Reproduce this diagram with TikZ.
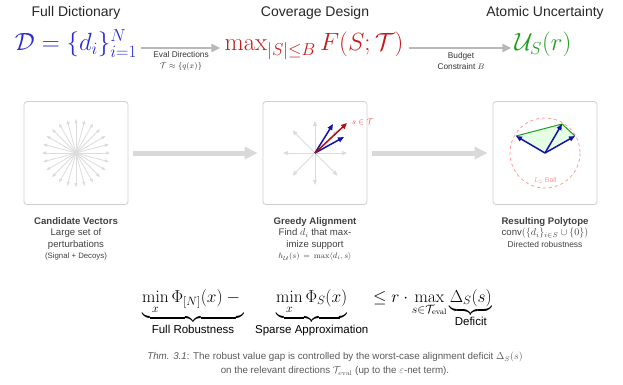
\documentclass[tikz,border=0pt]{standalone}
\usepackage{amsmath,amssymb}
\usepackage[no-math]{fontspec}
\setmainfont{Liberation Sans}
\usetikzlibrary{arrows.meta,calc}
\definecolor{dblue}{HTML}{2A2AD0}
\definecolor{dred}{HTML}{C01E1E}
\definecolor{dgreen}{HTML}{1E9E1E}
\definecolor{vblue}{HTML}{1212A8}
\definecolor{vred}{HTML}{B01010}
\definecolor{pink}{HTML}{FF9A9A}
\definecolor{boxline}{HTML}{CFCFCF}
\definecolor{starg}{HTML}{DCDCDC}
\definecolor{bigarr}{HTML}{D9D9D9}
\definecolor{toparr}{HTML}{B8B8B8}
\begin{document}
\begin{tikzpicture}[x=1pt,y=-1pt,
  title/.style={font=\fontsize{14}{16}\selectfont, text=black!85, inner sep=0pt},
  bigmath/.style={font=\fontsize{25.5}{30}\selectfont, inner sep=0pt, anchor=mid},
  arrlab/.style={font=\fontsize{8.3}{10.5}\selectfont, text=black!80, align=center, inner sep=0pt},
  toparrow/.style={draw=toparr, line width=2.5pt, -{Triangle[length=9pt,width=8pt]}},
  bigarrow/.style={draw=bigarr, line width=5pt, -{Triangle[length=13pt,width=12pt]}},
  panel/.style={draw=boxline, fill=white, rounded corners=3pt, line width=0.8pt, minimum width=104pt, minimum height=103pt, inner sep=0pt},
  desc/.style={font=\fontsize{9.6}{11.5}\selectfont, text=black!75, align=center, inner sep=0pt, anchor=north},
  starvec/.style={draw=starg, line width=0.8pt, -{Triangle[length=4pt,width=3pt]}},
  greyvec/.style={draw=starg, line width=0.9pt, -{Triangle[length=5pt,width=4pt]}},
  bluevec/.style={draw=vblue, line width=1.5pt, -{Triangle[length=6pt,width=5pt]}},
  redvec/.style={draw=vred, line width=1.5pt, -{Triangle[length=6pt,width=5pt]}},
]
\useasboundingbox (0,0) rectangle (623,384);

% titles
\node[title] (t1) at (76,13) {Full Dictionary};
\node[title] (t2) at (315,13) {Coverage Design};
\node[title] (t3) at (545,13) {Atomic Uncertainty};

% formulas
\node[bigmath, text=dblue] (f1) at (76,48) {$\mathcal{D}=\{d_i\}_{i=1}^{N}$};
\node[bigmath, text=dred] (f2) at (314,48) {$\max_{|S|\le B} F(S;\mathcal{T})$};
\node[bigmath, text=dgreen] (f3) at (543,48) {$\mathcal{U}_S(r)$};

\draw[toparrow] ([xshift=4pt]f1.mid east) -- ([xshift=-4pt]f2.mid west);
\draw[toparrow] ([xshift=5pt]f2.mid east) -- ([xshift=-3pt]f3.mid west);

\node[arrlab] (a1) at (181,61) {Eval Directions\\$\mathcal{T}\approx\{q(x)\}$};
\node[arrlab] (a2) at (461,61) {Budget\\Constraint $B$};

% panels
\node[panel] (p1) at (76,153) {};
\node[panel] (p2) at (315,153) {};
\node[panel] (p3) at (545,153) {};

\draw[bigarrow] ([xshift=5pt]p1.east) -- ([xshift=-5pt]p2.west);
\draw[bigarrow] ([xshift=5pt]p2.east) -- ([xshift=-5pt]p3.west);

% panel 1: starburst
\coordinate (o1) at (p1.center);
\foreach \a in {0,15,...,345}
  \draw[starvec] (o1) -- ++(\a:34);

% panel 2
\coordinate (o2) at (p2.center);
\foreach \a in {0,45,...,315}
  \draw[greyvec] (o2) -- ++(\a:32);
\coordinate (b1) at ($(o2)+(18,-29)$);
\coordinate (b2) at ($(o2)+(29,-16)$);
\coordinate (r1) at ($(o2)+(32,-30)$);
\draw[bluevec] (o2) -- (b1);
\draw[bluevec] (o2) -- (b2);
\draw[redvec] (o2) -- (r1);
\node[anchor=west, inner sep=0pt, text=red!75, font=\fontsize{8.5}{9}\selectfont] (sl) at ($(o2)+(37,-31)$) {$s\in\mathcal{T}$};

% panel 3
\coordinate (o3) at (p3.center);
\coordinate (c1) at ($(o3)+(-29,-17)$);
\coordinate (c2) at ($(o3)+(17,-29)$);
\coordinate (c3) at ($(o3)+(30,-17)$);
\draw[pink, dashed, dash pattern=on 3pt off 3pt, line width=0.8pt] (o3) circle[radius=35];
\fill[green!10] (o3) -- (c1) -- (c2) -- (c3) -- cycle;
\draw[dgreen, line width=1pt] (c1) -- (c2) -- (c3);
\draw[bluevec] (o3) -- (c1);
\draw[bluevec] (o3) -- (c2);
\draw[bluevec] (o3) -- (c3);
\node[inner sep=0pt, text=pink, font=\fontsize{7}{8}\selectfont] (ball) at ($(o3)+(0,27)$) {$L_2$ Ball};

% descriptions
\node[desc] (d1) at (76,217) {\textbf{Candidate Vectors}\\Large set of\\perturbations\\{\fontsize{7.8}{9}\selectfont (Signal + Decoys)}};
\node[desc] (d2) at (315,217) {\textbf{Greedy Alignment}\\Find $d_i$ that max-\\imize support\\{\fontsize{8}{9}\selectfont $h_{\mathcal{U}}(s)\,=\,\max\langle d_i,s\rangle$}};
\node[desc] (d3) at (545,217) {\textbf{Resulting Polytope}\\conv$(\{d_i\}_{i\in S}\cup\{0\})$\\{\fontsize{8.4}{9}\selectfont Directed robustness}};

% main inequality
\node[inner sep=0pt, anchor=base, font=\fontsize{17}{20}\selectfont] (eq) at (317,302) {$\displaystyle
\underbrace{\min_x \Phi_{[N]}(x) -{}}_{\mbox{\fontsize{11.5}{13}\selectfont Full Robustness}}
\enspace\underbrace{\min_x \Phi_S(x)}_{\mbox{\fontsize{11.5}{13}\selectfont Sparse Approximation}}
\le r\cdot \max_{s\in\mathcal{T}_{\mathrm{eval}}} \underbrace{\Delta_S(s)}_{\mbox{\fontsize{11.5}{13}\selectfont Deficit}}$};

% caption
\node[inner sep=0pt, align=center, text=black!65, font=\fontsize{9.8}{14}\selectfont] (cap) at (335,364) {\textit{Thm. 3.1}: The robust value gap is controlled by the worst-case alignment deficit $\Delta_S(s)$\\on the relevant directions $\mathcal{T}_{\mathrm{eval}}$ (up to the $\varepsilon$-net term).};
\end{tikzpicture}
\end{document}
